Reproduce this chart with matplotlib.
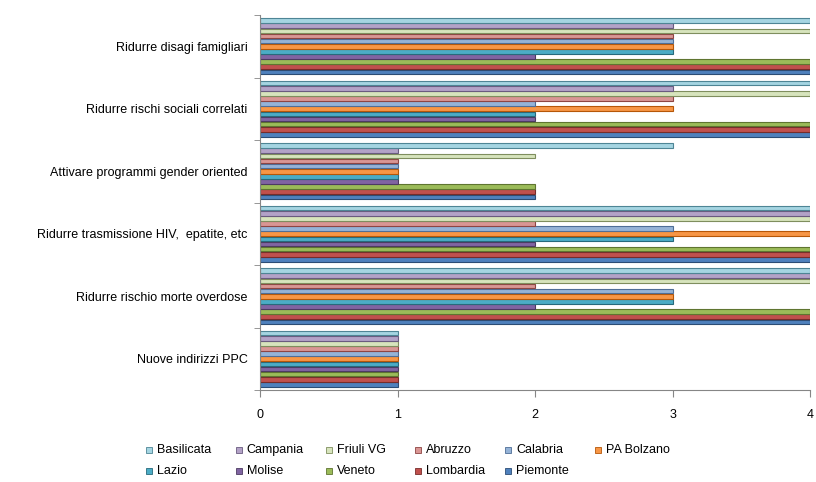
import numpy as np
import matplotlib
matplotlib.use("Agg")
import matplotlib.pyplot as plt
from matplotlib.patches import Rectangle

plt.rcParams['font.family'] = ['Liberation Sans', 'DejaVu Sans']

categories = ["Nuove indirizzi PPC", "Ridurre rischio morte overdose",
              "Ridurre trasmissione HIV,  epatite, etc", "Attivare programmi gender oriented",
              "Ridurre rischi sociali correlati", "Ridurre disagi famigliari"]

# series, bottom bar of each group first
piemonte   = [1, 4, 4, 2, 4, 4]
lombardia  = [1, 4, 4, 2, 4, 4]
veneto     = [1, 4, 4, 2, 4, 4]
molise     = [1, 2, 2, 1, 2, 2]
lazio      = [1, 3, 3, 1, 2, 3]
pa_bolzano = [1, 3, 4, 1, 3, 3]
calabria   = [1, 3, 3, 1, 2, 3]
abruzzo    = [1, 2, 2, 1, 3, 3]
friuli_vg  = [1, 4, 4, 2, 4, 4]
campania   = [1, 4, 4, 1, 3, 3]
basilicata = [1, 4, 4, 3, 4, 4]

names = ["Piemonte", "Lombardia", "Veneto", "Molise", "Lazio", "PA Bolzano",
         "Calabria", "Abruzzo", "Friuli VG", "Campania", "Basilicata"]
series = [piemonte, lombardia, veneto, molise, lazio, pa_bolzano,
          calabria, abruzzo, friuli_vg, campania, basilicata]
colors = ["#4F81BD", "#C0504D", "#9BBB59", "#8064A2", "#4BACC6", "#F79646",
          "#95B3D7", "#D99694", "#D7E4BD", "#B3A2C7", "#A5D5E2"]
edges = ["#2C4D75", "#772C2A", "#5F7530", "#4D3B62", "#276A7C", "#B65708",
         "#4F6E97", "#8E4543", "#7F8E5E", "#6A5B7F", "#4E8595"]

W, H = 816, 482
fig = plt.figure(figsize=(W / 100, H / 100), dpi=100)
ax = fig.add_axes([260 / W, 1 - 390 / H, 550 / W, 375 / H])

n = len(series)
h = 0.9 / n
y = np.arange(len(categories))
for i, (vals, c, e) in enumerate(zip(series, colors, edges)):
    ax.barh(y - 0.45 + h * (i + 0.5), vals, height=h * 0.9, color=c,
            edgecolor=e, linewidth=0.8)

ax.set_xlim(0, 4)
ax.set_ylim(-0.5, len(categories) - 0.5)
ax.set_xticks([0, 1, 2, 3, 4])
ax.set_yticks(y)
ax.set_yticklabels(categories, fontsize=9)
ax.set_yticks(np.arange(-0.5, len(categories)), minor=True)
ax.tick_params(axis="y", which="major", length=0, pad=9)
ax.tick_params(axis="y", which="minor", length=4, color="#868686")
ax.tick_params(axis="x", length=5, color="#868686", labelsize=9, pad=9)
for s in ["top", "right"]:
    ax.spines[s].set_visible(False)
for s in ["left", "bottom"]:
    ax.spines[s].set_color("#868686")

# legend, Excel style: Basilicata first, 6 equal columns
for k, idx in enumerate(range(n - 1, -1, -1)):
    row, col = divmod(k, 6)
    x0 = 146 + col * 89.8
    yc = 450 + row * 21
    fig.add_artist(Rectangle((x0 / W, 1 - (yc + 3) / H), 6 / W, 6 / H,
                             transform=fig.transFigure, facecolor=colors[idx],
                             edgecolor=edges[idx], linewidth=0.6))
    fig.text((x0 + 11) / W, 1 - yc / H, names[idx], fontsize=9,
             va="center", ha="left")

fig.savefig("out.png", dpi=100)
